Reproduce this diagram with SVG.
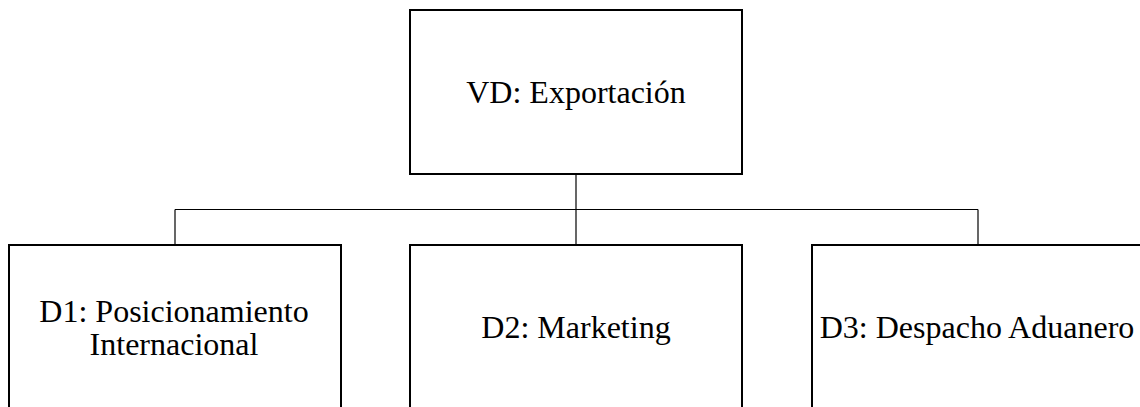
<svg xmlns="http://www.w3.org/2000/svg" width="1140" height="407" viewBox="0 0 1140 407">
<style>
.box{fill:#fff;stroke:#000;stroke-width:2}
.lbl{font-family:"Liberation Serif","Times New Roman",serif;font-size:32px;fill:#000;text-anchor:middle}
.conn{fill:none;stroke:#000;stroke-width:1.2}
</style>
<rect width="1140" height="407" fill="#fff"/>
<g id="connectors">
<path class="conn" d="M576 174 V245"/>
<path class="conn" d="M175 209.5 H978"/>
<path class="conn" d="M175 209.5 V245"/>
<path class="conn" d="M978 209.5 V245"/>
</g>
<g id="vd">
<rect class="box" x="410" y="10" width="332" height="164"/>
<text class="lbl" x="576" y="103">VD: Exportación</text>
</g>
<g id="d1">
<rect class="box" x="9" y="245" width="332" height="170"/>
<text class="lbl" x="174" y="321.5">D1: Posicionamiento</text>
<text class="lbl" x="174" y="355">Internacional</text>
</g>
<g id="d2">
<rect class="box" x="410" y="245" width="332" height="170"/>
<text class="lbl" x="576" y="338">D2: Marketing</text>
</g>
<g id="d3">
<rect class="box" x="812" y="245" width="332" height="170"/>
<text class="lbl" x="977" y="338">D3: Despacho Aduanero</text>
</g>
</svg>
